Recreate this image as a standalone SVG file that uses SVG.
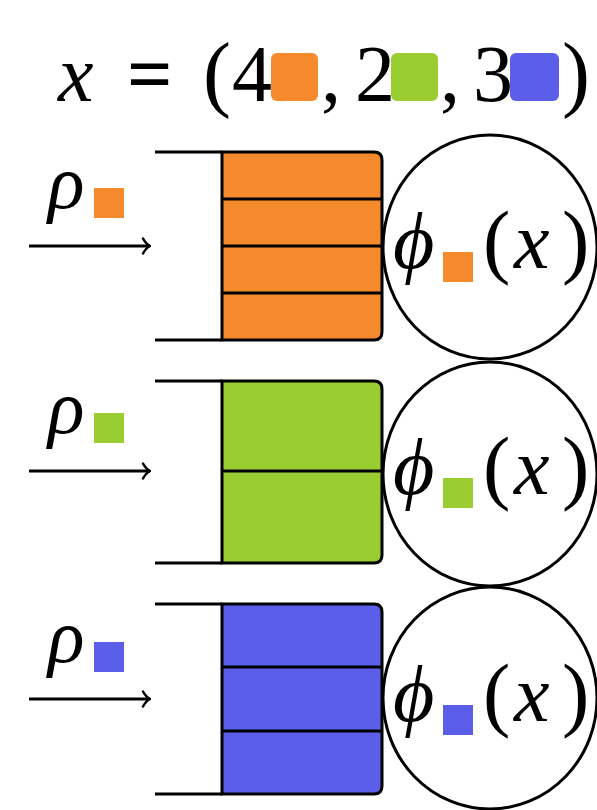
<svg xmlns="http://www.w3.org/2000/svg" width="597" height="810" viewBox="0 0 597 810">
<style>
.t{font-family:"Liberation Serif","DejaVu Serif",serif;fill:#000}
.i{font-style:italic}
.ln{stroke:#000;stroke-width:3;fill:none}
.box{stroke:#000;stroke-width:3}
.or{fill:#F48A2B}.gr{fill:#9ACD32}.bl{fill:#5B5EE9}
.circ{fill:#fff;stroke:#000;stroke-width:3}
</style>
<defs>
<marker id="ah" viewBox="0 0 12 18" refX="11" refY="9" markerWidth="12" markerHeight="18" markerUnits="userSpaceOnUse" orient="auto">
<path d="M4,1.5 Q7,7 11,9 Q7,11 4,16.5" fill="none" stroke="#000" stroke-width="2.5" stroke-linecap="round"/>
</marker>
</defs>
<g id="equation">
<text class="t i" x="58" y="101" font-size="80">x</text>
<text class="t" x="127" y="101" font-size="80" font-weight="bold">=</text>
<text class="t" x="203" y="101" font-size="84">(</text>
<text class="t" x="232" y="101" font-size="80">4</text>
<rect class="or" x="271" y="53" width="47" height="48" rx="6"/>
<text class="t" x="321" y="101" font-size="80">,</text>
<text class="t" x="355" y="101" font-size="80">2</text>
<rect class="gr" x="391" y="53" width="47" height="48" rx="6"/>
<text class="t" x="440" y="101" font-size="80">,</text>
<text class="t" x="473" y="101" font-size="80">3</text>
<rect class="bl" x="510" y="53" width="49" height="48" rx="6"/>
<text class="t" x="562" y="101" font-size="84">)</text>
</g>
<g id="connectors">
<line class="ln" x1="29" y1="246" x2="150" y2="246" marker-end="url(#ah)"/>
<line class="ln" x1="29" y1="471" x2="150" y2="471" marker-end="url(#ah)"/>
<line class="ln" x1="29" y1="699" x2="150" y2="699" marker-end="url(#ah)"/>
</g>
<g id="orange">
<text class="t i" x="48" y="208" font-size="76">ρ</text>
<rect class="or" x="94" y="188" width="30" height="30"/>
<path class="box or" d="M222,152 H374 Q382,152 382,160 V332 Q382,340 374,340 H222 Z"/>
<path class="ln" d="M155,152 H222 M155,340 H222 M222,199 H382 M222,246 H382 M222,293 H382"/>
<ellipse class="circ" cx="490" cy="247" rx="107" ry="112"/>
<text class="t i" x="393" y="268" font-size="80">ϕ</text>
<rect class="or" x="443" y="252" width="30" height="30"/>
<text class="t" x="483" y="268" font-size="82">(</text>
<text class="t i" x="514" y="268" font-size="80">x</text>
<text class="t" x="562" y="268" font-size="82">)</text>
</g>
<g id="green">
<text class="t i" x="48" y="433" font-size="76">ρ</text>
<rect class="gr" x="94" y="413" width="30" height="30"/>
<path class="box gr" d="M222,381 H374 Q382,381 382,389 V555 Q382,563 374,563 H222 Z"/>
<path class="ln" d="M155,381 H222 M155,563 H222 M222,471 H382"/>
<ellipse class="circ" cx="490" cy="474" rx="107" ry="112"/>
<text class="t i" x="393" y="494" font-size="80">ϕ</text>
<rect class="gr" x="443" y="478" width="30" height="30"/>
<text class="t" x="483" y="494" font-size="82">(</text>
<text class="t i" x="514" y="494" font-size="80">x</text>
<text class="t" x="562" y="494" font-size="82">)</text>
</g>
<g id="blue">
<text class="t i" x="48" y="662" font-size="76">ρ</text>
<rect class="bl" x="94" y="642" width="30" height="30"/>
<path class="box bl" d="M222,604 H374 Q382,604 382,612 V786 Q382,794 374,794 H222 Z"/>
<path class="ln" d="M155,604 H222 M155,794 H222 M222,667 H382 M222,731 H382"/>
<ellipse class="circ" cx="490" cy="698" rx="107" ry="111"/>
<text class="t i" x="393" y="721" font-size="80">ϕ</text>
<rect class="bl" x="443" y="705" width="30" height="30"/>
<text class="t" x="483" y="721" font-size="82">(</text>
<text class="t i" x="514" y="721" font-size="80">x</text>
<text class="t" x="562" y="721" font-size="82">)</text>
</g>
</svg>
